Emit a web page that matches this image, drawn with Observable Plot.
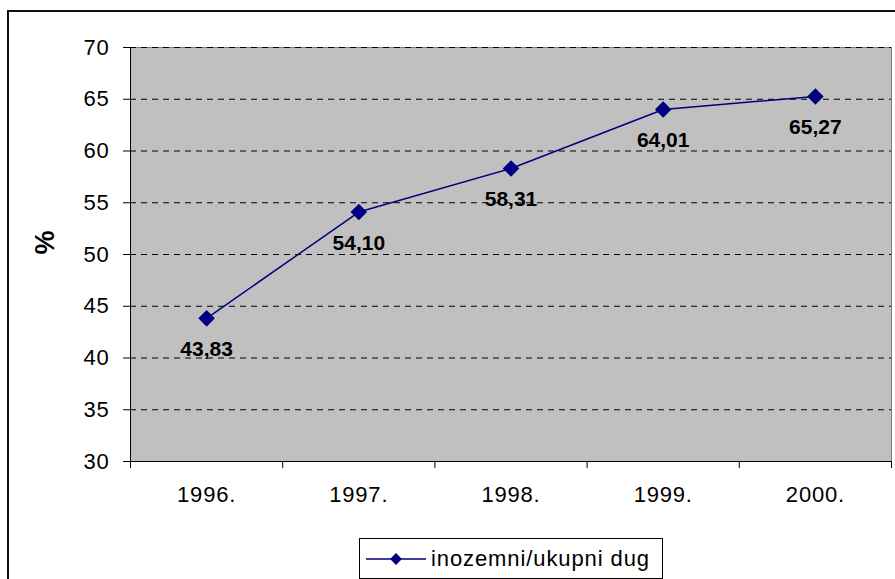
<!DOCTYPE html>
<html>
<head>
<meta charset="utf-8">
<script src="https://cdn.jsdelivr.net/npm/d3@7"></script>
<script src="https://cdn.jsdelivr.net/npm/@observablehq/plot@0.6"></script>
<style>
  html, body { margin: 0; padding: 0; background: #fff; }
  #wrap { position: relative; width: 895px; height: 579px; overflow: hidden; font-family: "Liberation Sans", Arial, sans-serif; }
  #frame { position: absolute; left: 7px; top: 10px; width: 920px; height: 620px; border: 2px solid #111; box-sizing: border-box; pointer-events: none; }
  #chart { position: absolute; left: 0; top: 0; }
  #chart g[aria-label="x-axis tick label"] text, #chart g[aria-label="y-axis tick label"] text { letter-spacing: 0.8px; }
  #legend { position: absolute; left: 359px; top: 538px; width: 304px; height: 41px; border: 1px solid #000; box-sizing: border-box; background: #fff; display: flex; align-items: center; }
  #legend span { font-size: 22px; letter-spacing: 0.9px; color: #000; margin-left: 3px; }
</style>
</head>
<body>
<div id="wrap">
  <div id="chart"></div>
  <div id="frame"></div>
  <div id="legend"></div>
</div>
<script>
const categories = ["1996.", "1997.", "1998.", "1999.", "2000."];
const values = [43.83, 54.10, 58.31, 64.01, 65.27];
const valueLabels = ["43,83", "54,10", "58,31", "64,01", "65,27"];
const yTicks = [30, 35, 40, 45, 50, 55, 60, 65, 70];
const gridTicks = [35, 40, 45, 50, 55, 60, 65, 70];
const seriesName = "inozemni/ukupni dug";

const data = categories.map((c, i) => ({cat: c, idx: i + 0.5, value: values[i], label: valueLabels[i]}));
const lineColor = "#000080";

const chart = Plot.plot({
  width: 895,
  height: 579,
  marginLeft: 130,
  marginRight: 4,
  marginTop: 47,
  marginBottom: 118,
  style: {fontFamily: "'Liberation Sans', Arial, sans-serif", background: "transparent"},
  x: {domain: [0, categories.length], axis: null},
  y: {domain: [30, 70], axis: null},
  marks: [
    Plot.frame({fill: "#c0c0c0", stroke: "#808080"}),
    Plot.ruleY(gridTicks, {stroke: "#000", strokeWidth: 1, strokeDasharray: "6,5"}),
    Plot.axisY({ticks: yTicks, tickSize: 7, tickPadding: 14, fontSize: 22, stroke: "#000", color: "#000", label: null}),
    Plot.ruleX([0], {stroke: "#000"}),
    Plot.ruleY([30], {stroke: "#000"}),
    Plot.axisX({ticks: d3.range(categories.length + 1), tickSize: 7, tickFormat: () => "", stroke: "#000", label: null}),
    Plot.axisX({ticks: data.map(d => d.idx), tickSize: 0, tickPadding: 25, tickFormat: v => categories[Math.floor(v)], fontSize: 22, color: "#000", label: null}),
    Plot.line(data, {x: "idx", y: "value", stroke: lineColor, strokeWidth: 1.5}),
    Plot.dot(data, {x: "idx", y: "value", symbol: "diamond2", r: 6.5, fill: lineColor, stroke: lineColor}),
    Plot.text(data, {x: "idx", y: "value", text: "label", dy: 31, fontSize: 21, fontWeight: "bold", fill: "#000"}),
    Plot.text(["%"], {frameAnchor: "left", dx: -85, rotate: -90, fontSize: 27, fontWeight: "bold", fill: "#000"})
  ]
});
document.getElementById("chart").appendChild(chart);

// legend
const leg = document.getElementById("legend");
const ns = "http://www.w3.org/2000/svg";
const svg = document.createElementNS(ns, "svg");
svg.setAttribute("width", 64); svg.setAttribute("height", 20);
svg.style.marginLeft = "4px";
const ln = document.createElementNS(ns, "line");
ln.setAttribute("x1", 2); ln.setAttribute("x2", 62); ln.setAttribute("y1", 10); ln.setAttribute("y2", 10);
ln.setAttribute("stroke", lineColor); ln.setAttribute("stroke-width", 1.5);
svg.appendChild(ln);
const dm = document.createElementNS(ns, "path");
dm.setAttribute("d", d3.symbol(d3.symbolDiamond2, 90)());
dm.setAttribute("transform", "translate(32,10)");
dm.setAttribute("fill", lineColor);
svg.appendChild(dm);
leg.appendChild(svg);
const sp = document.createElement("span");
sp.textContent = seriesName;
leg.appendChild(sp);
</script>
</body>
</html>
